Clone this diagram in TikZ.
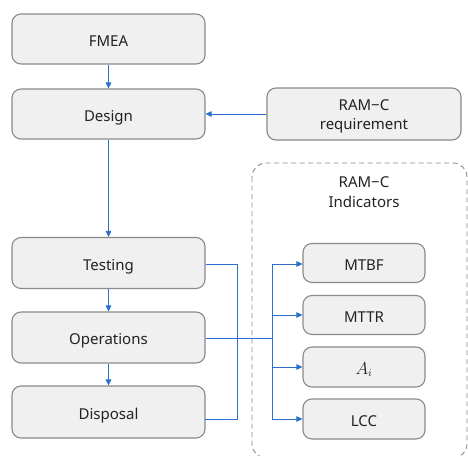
\documentclass[tikz,border=0pt]{standalone}
\usepackage{fontspec}
\setmainfont{Noto Sans}
\usetikzlibrary{arrows.meta}
\definecolor{boxfill}{HTML}{F0F0F0}
\definecolor{boxline}{HTML}{8A8A8A}
\definecolor{conn}{HTML}{2A6FCE}
\definecolor{txt}{HTML}{222222}
\tikzset{
  basebox/.style={draw=boxline, line width=1.1pt, fill=boxfill, rounded corners=9pt,
    minimum width=193pt, minimum height=50pt, inner sep=0pt, text=txt,
    font=\fontsize{15}{20}\selectfont, align=center},
  stagebox/.style={basebox, text height=14.4pt, text depth=0pt},
  indbox/.style={stagebox, minimum width=122pt, minimum height=39pt},
  link/.style={draw=conn, line width=0.9pt},
  arr/.style={link, -{Triangle[length=6pt,width=5.5pt]}},
  labeltext/.style={text=txt, font=\fontsize{15}{19.5}\selectfont, align=center, inner sep=0pt},
}
\begin{document}
\begin{tikzpicture}[x=1pt,y=-1pt]
\useasboundingbox (0,0) rectangle (468,455);
% container
\draw[draw=boxline, line width=0.9pt, dashed, dash pattern=on 5pt off 3.5pt, rounded corners=14pt]
  (252,163) rectangle (467,458);
\node[labeltext] (ttl) at (364,192) {RAM−C\\Indicators};
% nodes
\node[stagebox] (fmea) at (108.5,39) {FMEA};
\node[stagebox] (design) at (108.5,114) {Design};
\node[basebox, minimum width=194pt, minimum height=52pt] (req) at (364,114) {};
\node[labeltext] (reqt) at ([yshift=-2.5pt]req.center) {RAM−C\\requirement};
\node[stagebox, minimum height=51pt] (test) at (108.5,263) {Testing};
\node[stagebox, minimum height=51pt] (ops) at (108.5,337.5) {Operations};
\node[stagebox, minimum height=52pt] (disp) at (108.5,412) {Disposal};
\node[indbox] (mtbf) at (364,263) {MTBF};
\node[indbox] (mttr) at (364,315) {MTTR};
\node[indbox, minimum height=40pt, font=\fontsize{16}{20}\selectfont] (ai) at (364,367) {$A_i$};
\node[indbox, minimum height=40pt] (lcc) at (364,419) {LCC};
% coordinates
\coordinate (tr) at (237,264);
\coordinate (br) at (237,419);
\coordinate (dispe) at (205,419);
\coordinate (hub) at (272,338);
\coordinate (vtop) at (272,264);
\coordinate (v2) at (272,315);
\coordinate (v3) at (272,367);
\coordinate (vbot) at (272,419);
% connectors
\draw[arr] (fmea) -- (design);
\draw[arr] (req) -- (design);
\draw[arr] (design) -- (test);
\draw[arr] (test) -- (ops);
\draw[arr] (ops) -- (disp);
\draw[link] (test.east |- tr) -- (tr) -- (br) -- (dispe);
\draw[link] (ops.east |- hub) -- (hub);
\draw[link] (vtop) -- (vbot);
\draw[arr] (vtop) -- (mtbf.west |- vtop);
\draw[arr] (v2) -- (mttr.west |- v2);
\draw[arr] (v3) -- (ai.west |- v3);
\draw[arr] (vbot) -- (lcc.west |- vbot);
\end{tikzpicture}
\end{document}
